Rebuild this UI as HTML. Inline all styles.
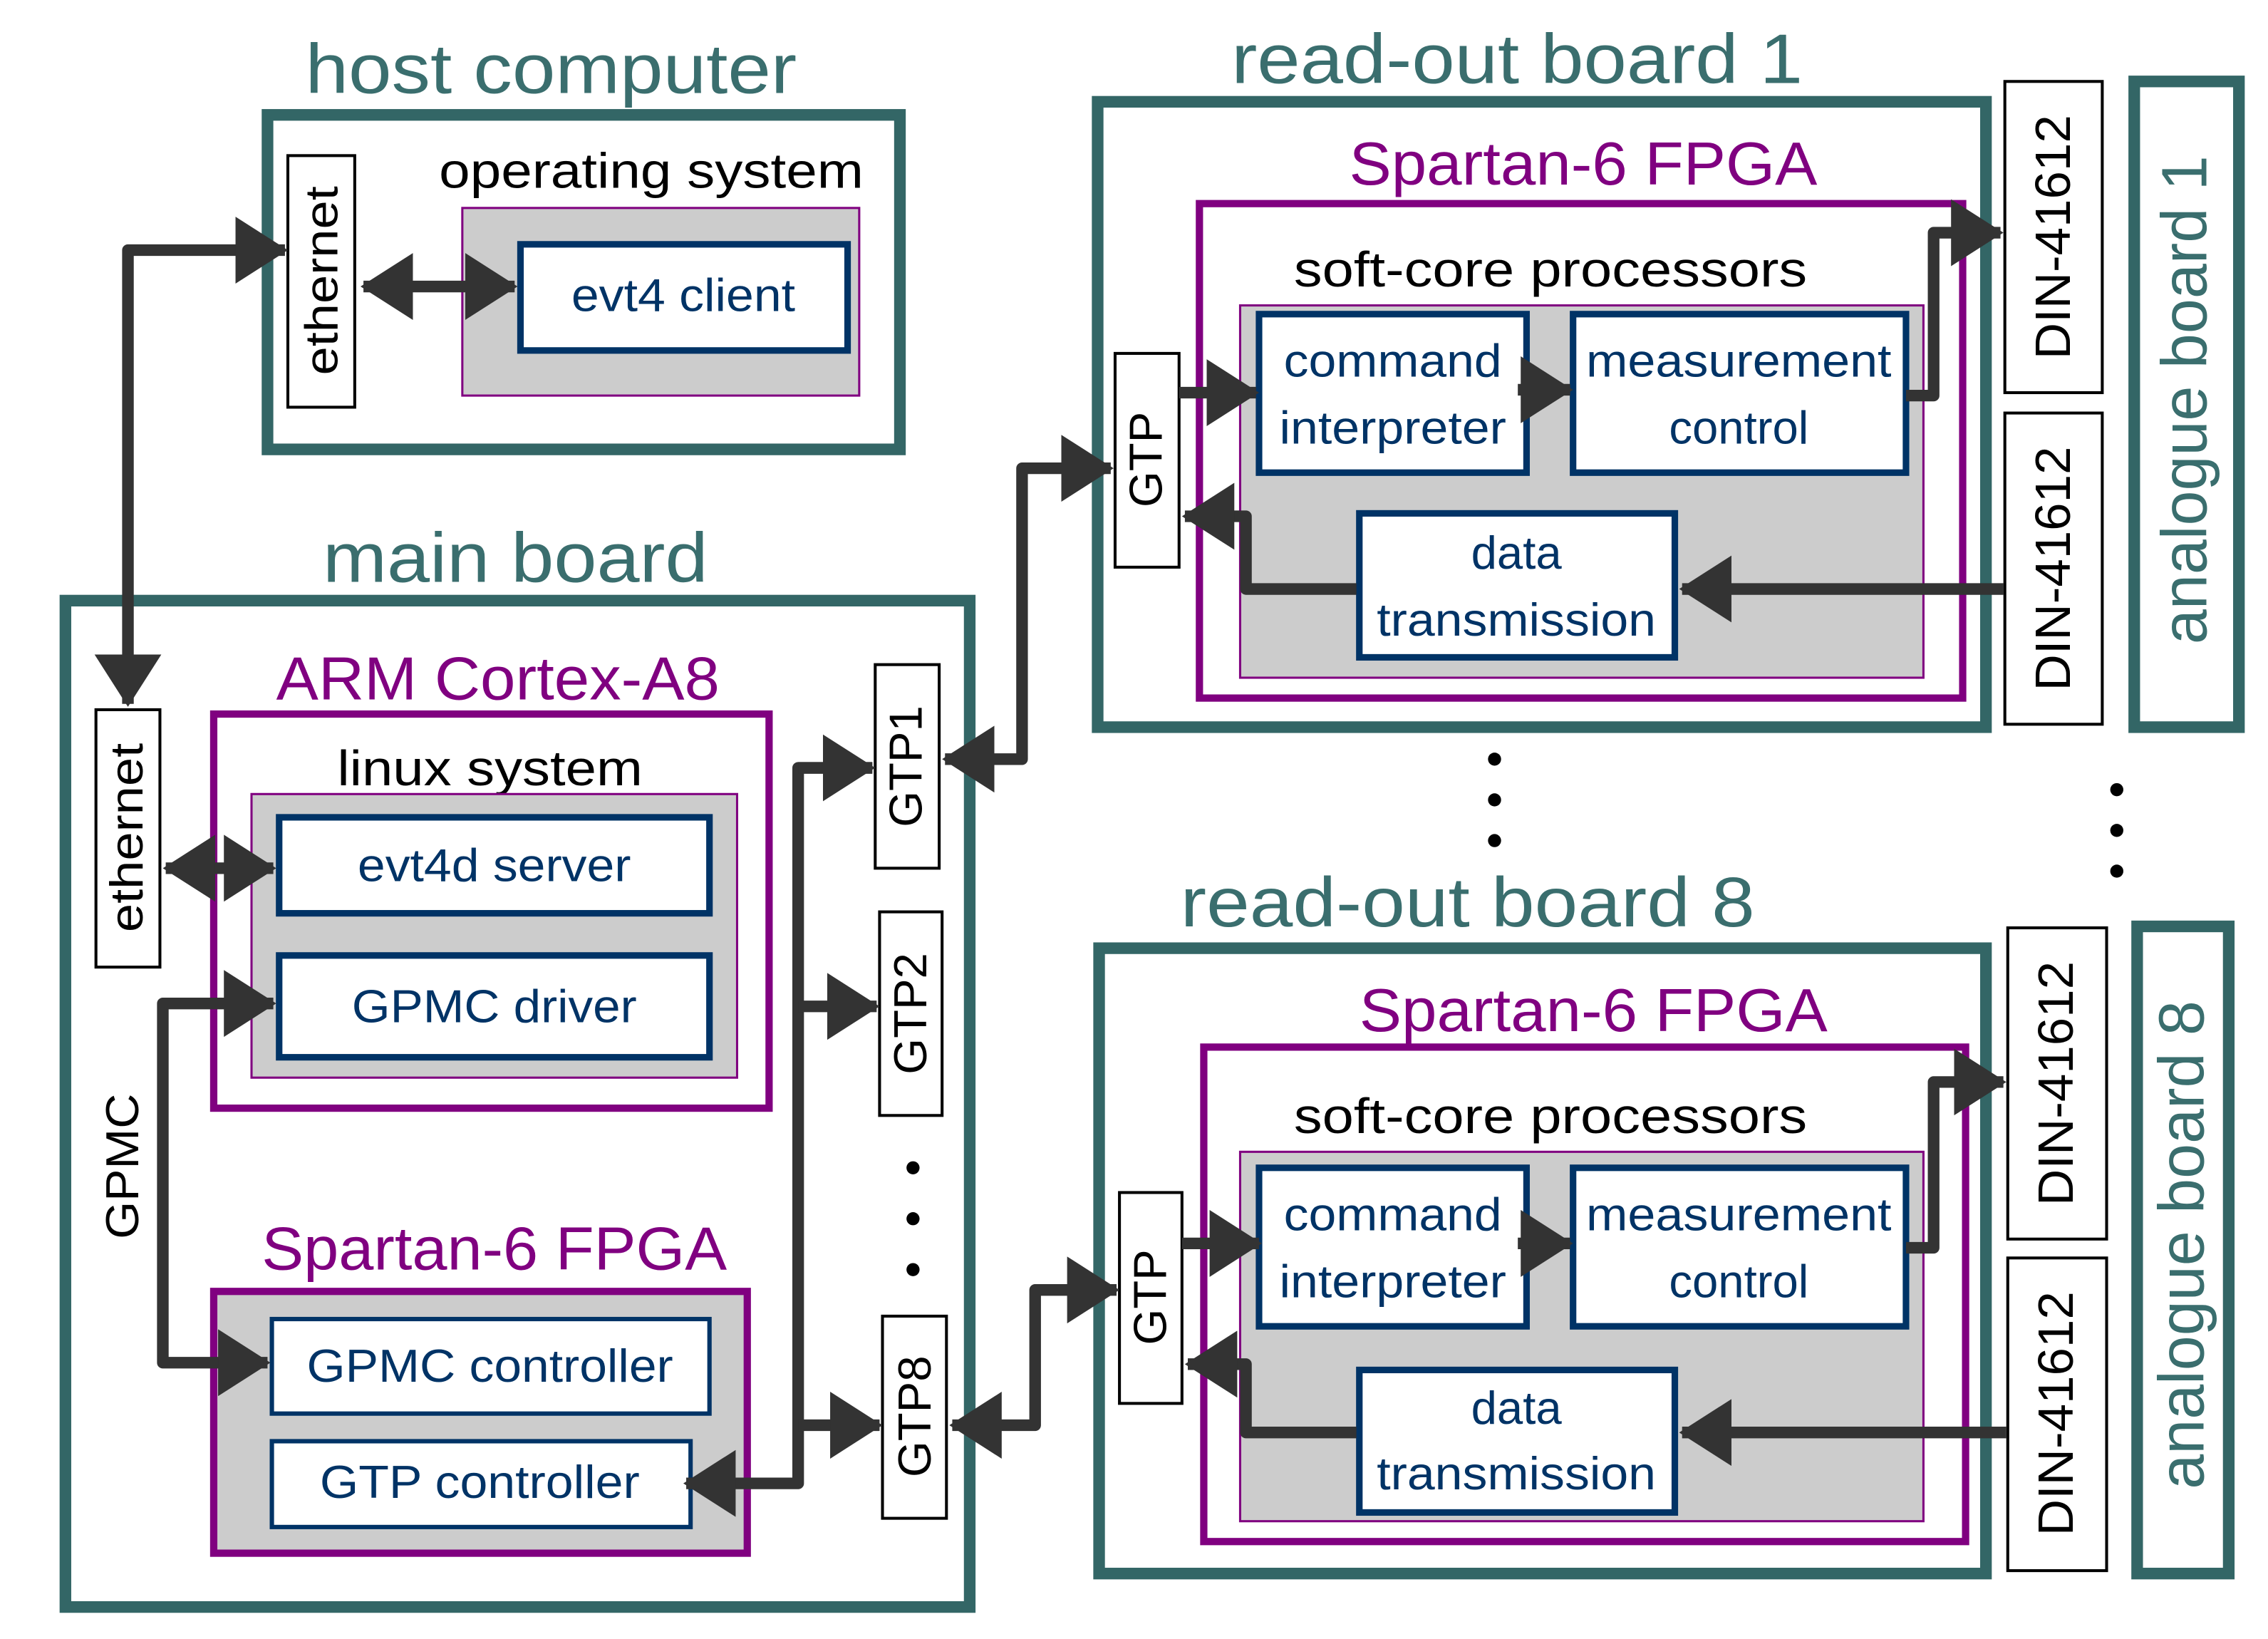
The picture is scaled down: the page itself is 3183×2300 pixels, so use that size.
<!DOCTYPE html>
<html><head><meta charset="utf-8"><style>
html,body{margin:0;padding:0;background:#fff}
svg{display:block}
text{font-family:"Liberation Sans",Arial,sans-serif}
.t{fill:#3a6e6e;font-size:48px}
.p{fill:#800080;font-size:42px}
.k{fill:#000;font-size:34px}
.n{fill:#003366;font-size:32px}
.s{font-size:32px;fill:#000}
.teal{fill:none;stroke:#336666;stroke-width:8}
.pur{fill:none;stroke:#800080;stroke-width:5}
.gray{fill:#cccccc;stroke:#800080;stroke-width:1.5}
.nav{fill:#fff;stroke:#003366;stroke-width:4.5}
.blk{fill:#fff;stroke:#000;stroke-width:2}
.ln{fill:none;stroke:#333;stroke-width:8;stroke-linejoin:round}
</style></head><body>
<svg width="3183" height="2300" viewBox="0 0 1560 1127" preserveAspectRatio="none" xmlns="http://www.w3.org/2000/svg">
<defs>
<marker id="a" markerUnits="userSpaceOnUse" markerWidth="36" markerHeight="46" refX="34" refY="23" orient="auto-start-reverse">
<path d="M0,0 L36,23 L0,46 z" fill="#333"/>
</marker>
</defs>

<!-- host computer -->
<text class="t" x="210" y="64" textLength="338" lengthAdjust="spacingAndGlyphs">host computer</text>
<rect class="teal" x="184" y="79" width="435" height="230"/>
<rect class="blk" x="198" y="107" width="46" height="173"/>
<text class="s" transform="translate(221,193) rotate(-90)" text-anchor="middle" dominant-baseline="central" textLength="130" lengthAdjust="spacingAndGlyphs">ethernet</text>
<text class="k" x="302" y="129" textLength="292" lengthAdjust="spacingAndGlyphs">operating system</text>
<rect class="gray" x="318" y="143" width="273" height="129"/>
<rect class="nav" x="358" y="168" width="225" height="73"/>
<text class="n" x="470" y="214" text-anchor="middle" textLength="154" lengthAdjust="spacingAndGlyphs">evt4 client</text>

<!-- main board -->
<text class="t" x="222" y="400" textLength="265" lengthAdjust="spacingAndGlyphs">main board</text>
<rect class="teal" x="45" y="413" width="622" height="692"/>
<rect class="blk" x="66" y="488" width="44" height="177"/>
<text class="s" transform="translate(87,576) rotate(-90)" text-anchor="middle" dominant-baseline="central" textLength="130" lengthAdjust="spacingAndGlyphs">ethernet</text>
<text class="p" x="190" y="481" textLength="305" lengthAdjust="spacingAndGlyphs">ARM Cortex-A8</text>
<rect class="pur" x="147" y="491" width="382" height="271"/>
<text class="k" x="232" y="540" textLength="210" lengthAdjust="spacingAndGlyphs">linux system</text>
<rect class="gray" x="173" y="546" width="334" height="195"/>
<rect class="nav" x="192" y="562" width="296" height="66"/>
<text class="n" x="340" y="606" text-anchor="middle" textLength="188" lengthAdjust="spacingAndGlyphs">evt4d server</text>
<rect class="nav" x="192" y="657" width="296" height="70"/>
<text class="n" x="340" y="703" text-anchor="middle" textLength="196" lengthAdjust="spacingAndGlyphs">GPMC driver</text>
<text class="s" transform="translate(84,802) rotate(-90)" text-anchor="middle" dominant-baseline="central" textLength="100" lengthAdjust="spacingAndGlyphs">GPMC</text>

<text class="p" x="180" y="873" textLength="320" lengthAdjust="spacingAndGlyphs">Spartan-6 FPGA</text>
<rect x="147" y="888" width="367" height="180" fill="#cccccc" stroke="#800080" stroke-width="5"/>
<rect x="187" y="907" width="301" height="65" fill="#fff" stroke="#003366" stroke-width="3"/>
<text class="n" x="337" y="950" text-anchor="middle" textLength="252" lengthAdjust="spacingAndGlyphs">GPMC controller</text>
<rect x="187" y="991" width="288" height="59" fill="#fff" stroke="#003366" stroke-width="3"/>
<text class="n" x="330" y="1030" text-anchor="middle" textLength="220" lengthAdjust="spacingAndGlyphs">GTP controller</text>

<rect class="blk" x="602" y="457" width="44" height="140"/>
<text class="s" transform="translate(623,527) rotate(-90)" text-anchor="middle" dominant-baseline="central">GTP1</text>
<rect class="blk" x="605" y="627" width="43" height="140"/>
<text class="s" transform="translate(626,697) rotate(-90)" text-anchor="middle" dominant-baseline="central">GTP2</text>
<rect class="blk" x="607" y="905" width="44" height="139"/>
<text class="s" transform="translate(629,974) rotate(-90)" text-anchor="middle" dominant-baseline="central">GTP8</text>
<circle cx="628" cy="803" r="4.5" fill="#000"/><circle cx="628" cy="838" r="4.5" fill="#000"/><circle cx="628" cy="873" r="4.5" fill="#000"/>

<!-- read-out board 1 -->
<text class="t" x="847" y="57" textLength="393" lengthAdjust="spacingAndGlyphs">read-out board 1</text>
<rect class="teal" x="755" y="70" width="611" height="430"/>
<text class="p" x="928" y="127" textLength="322" lengthAdjust="spacingAndGlyphs">Spartan-6 FPGA</text>
<rect class="pur" x="825" y="140" width="525" height="340"/>
<text class="k" x="890" y="197" textLength="353" lengthAdjust="spacingAndGlyphs">soft-core processors</text>
<rect class="gray" x="853" y="210" width="470" height="256"/>
<rect class="blk" x="767" y="243" width="44" height="147"/>
<text class="s" transform="translate(788,316) rotate(-90)" text-anchor="middle" dominant-baseline="central">GTP</text>
<rect class="nav" x="866" y="216" width="184" height="109"/>
<text class="n" x="958" y="259" text-anchor="middle" textLength="150" lengthAdjust="spacingAndGlyphs">command</text>
<text class="n" x="958" y="305" text-anchor="middle" textLength="156" lengthAdjust="spacingAndGlyphs">interpreter</text>
<rect class="nav" x="1082" y="216" width="229" height="109"/>
<text class="n" x="1196" y="259" text-anchor="middle" textLength="210" lengthAdjust="spacingAndGlyphs">measurement</text>
<text class="n" x="1196" y="305" text-anchor="middle">control</text>
<rect class="nav" x="935" y="353" width="217" height="99"/>
<text class="n" x="1043" y="391" text-anchor="middle">data</text>
<text class="n" x="1043" y="437" text-anchor="middle" textLength="192" lengthAdjust="spacingAndGlyphs">transmission</text>
<rect class="blk" x="1379" y="56" width="67" height="214"/>
<text class="s" style="font-size:34px" transform="translate(1412,163) rotate(-90)" text-anchor="middle" dominant-baseline="central" textLength="168" lengthAdjust="spacingAndGlyphs">DIN-41612</text>
<rect class="blk" x="1379" y="284" width="67" height="214"/>
<text class="s" style="font-size:34px" transform="translate(1412,391) rotate(-90)" text-anchor="middle" dominant-baseline="central" textLength="168" lengthAdjust="spacingAndGlyphs">DIN-41612</text>
<rect class="teal" x="1468" y="56" width="72" height="444"/>
<text class="t" style="font-size:44px" transform="translate(1503,275) rotate(-90)" text-anchor="middle" dominant-baseline="central" textLength="336" lengthAdjust="spacingAndGlyphs">analogue board 1</text>

<circle cx="1028" cy="522" r="4.5" fill="#000"/><circle cx="1028" cy="550" r="4.5" fill="#000"/><circle cx="1028" cy="578" r="4.5" fill="#000"/>
<circle cx="1456" cy="543" r="4.5" fill="#000"/><circle cx="1456" cy="571" r="4.5" fill="#000"/><circle cx="1456" cy="599" r="4.5" fill="#000"/>

<!-- read-out board 8 -->
<text class="t" x="812" y="637" textLength="395" lengthAdjust="spacingAndGlyphs">read-out board 8</text>
<rect class="teal" x="756" y="652" width="610" height="430"/>
<text class="p" x="935" y="709" textLength="322" lengthAdjust="spacingAndGlyphs">Spartan-6 FPGA</text>
<rect class="pur" x="828" y="720" width="524" height="340"/>
<text class="k" x="890" y="779" textLength="353" lengthAdjust="spacingAndGlyphs">soft-core processors</text>
<rect class="gray" x="853" y="792" width="470" height="254"/>
<rect class="blk" x="770" y="820" width="43" height="145"/>
<text class="s" transform="translate(791,892) rotate(-90)" text-anchor="middle" dominant-baseline="central">GTP</text>
<rect class="nav" x="866" y="803" width="184" height="109"/>
<text class="n" x="958" y="846" text-anchor="middle" textLength="150" lengthAdjust="spacingAndGlyphs">command</text>
<text class="n" x="958" y="892" text-anchor="middle" textLength="156" lengthAdjust="spacingAndGlyphs">interpreter</text>
<rect class="nav" x="1082" y="803" width="229" height="109"/>
<text class="n" x="1196" y="846" text-anchor="middle" textLength="210" lengthAdjust="spacingAndGlyphs">measurement</text>
<text class="n" x="1196" y="892" text-anchor="middle">control</text>
<rect class="nav" x="935" y="942" width="217" height="98"/>
<text class="n" x="1043" y="979" text-anchor="middle">data</text>
<text class="n" x="1043" y="1024" text-anchor="middle" textLength="192" lengthAdjust="spacingAndGlyphs">transmission</text>
<rect class="blk" x="1381" y="638" width="68" height="214"/>
<text class="s" style="font-size:34px" transform="translate(1414,745) rotate(-90)" text-anchor="middle" dominant-baseline="central" textLength="168" lengthAdjust="spacingAndGlyphs">DIN-41612</text>
<rect class="blk" x="1381" y="865" width="68" height="215"/>
<text class="s" style="font-size:34px" transform="translate(1414,972) rotate(-90)" text-anchor="middle" dominant-baseline="central" textLength="168" lengthAdjust="spacingAndGlyphs">DIN-41612</text>
<rect class="teal" x="1470" y="637" width="63" height="445"/>
<text class="t" style="font-size:44px" transform="translate(1501,856) rotate(-90)" text-anchor="middle" dominant-baseline="central" textLength="336" lengthAdjust="spacingAndGlyphs">analogue board 8</text>

<!-- connectors (drawn last) -->
<line class="ln" x1="250" y1="197" x2="354" y2="197" marker-start="url(#a)" marker-end="url(#a)"/>
<polyline class="ln" points="88,484 88,172 196,172" marker-start="url(#a)" marker-end="url(#a)"/>
<line class="ln" x1="114" y1="597" x2="188" y2="597" marker-start="url(#a)" marker-end="url(#a)"/>
<polyline class="ln" points="188,690 112,690 112,937 184,937" marker-start="url(#a)" marker-end="url(#a)"/>
<polyline class="ln" points="600,528 549,528 549,1020 472,1020" marker-end="url(#a)"/>
<line class="ln" x1="549" y1="528" x2="600" y2="528" marker-end="url(#a)"/>
<line class="ln" x1="549" y1="692" x2="603" y2="692" marker-end="url(#a)"/>
<line class="ln" x1="549" y1="980" x2="605" y2="980" marker-end="url(#a)"/>
<polyline class="ln" points="650,522 703,522 703,322 764,322" marker-start="url(#a)" marker-end="url(#a)"/>
<polyline class="ln" points="655,980 712,980 712,887 768,887" marker-start="url(#a)" marker-end="url(#a)"/>
<line class="ln" x1="811" y1="270" x2="864" y2="270" marker-end="url(#a)"/>
<line class="ln" x1="1044" y1="268" x2="1080" y2="268" marker-end="url(#a)"/>
<polyline class="ln" points="1311,272 1330,272 1330,160 1376,160" marker-end="url(#a)"/>
<line class="ln" x1="1378" y1="405" x2="1157" y2="405" marker-end="url(#a)"/>
<polyline class="ln" points="933,405 857,405 857,355 815,355" marker-end="url(#a)"/>
<line class="ln" x1="813" y1="855" x2="866" y2="855" marker-end="url(#a)"/>
<line class="ln" x1="1044" y1="855" x2="1080" y2="855" marker-end="url(#a)"/>
<polyline class="ln" points="1311,858 1330,858 1330,744 1378,744" marker-end="url(#a)"/>
<line class="ln" x1="1380" y1="985" x2="1157" y2="985" marker-end="url(#a)"/>
<polyline class="ln" points="933,985 857,985 857,938 817,938" marker-end="url(#a)"/>
</svg>
</body></html>
